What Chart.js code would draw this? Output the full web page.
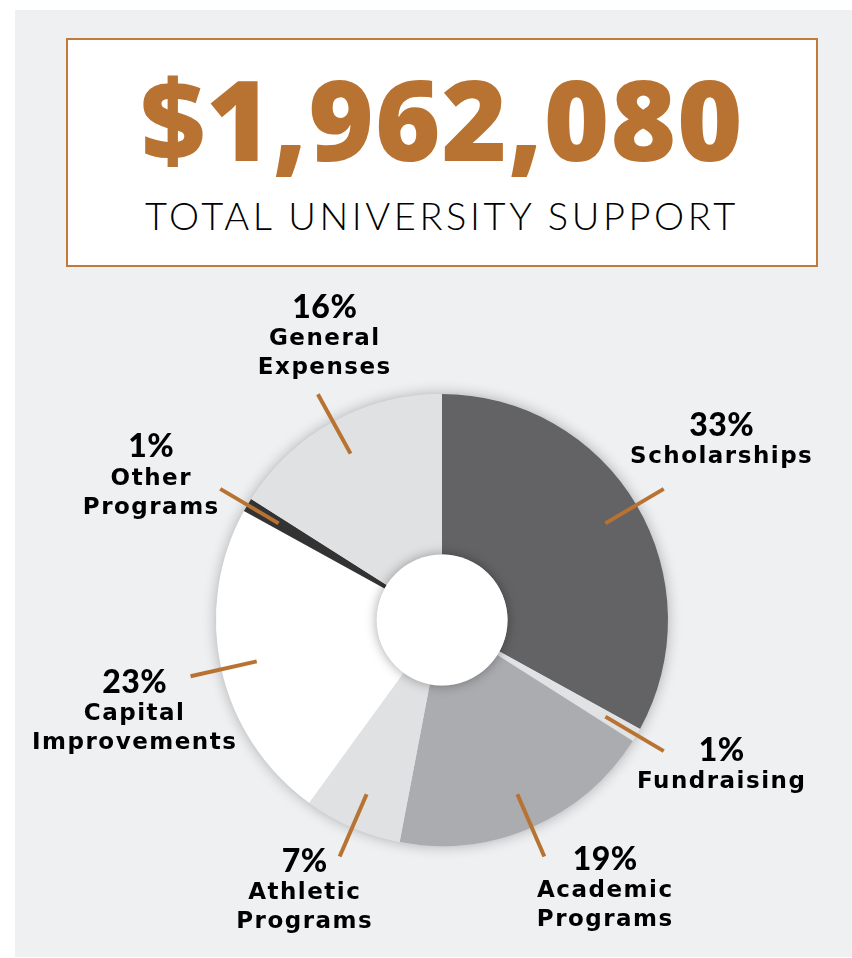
<!DOCTYPE html>
<html>
<head>
<meta charset="utf-8">
<script src="https://cdn.jsdelivr.net/npm/chart.js@4/dist/chart.umd.min.js"></script>
<style>
  body { margin: 0; background: #ffffff; width: 852px; height: 958px; overflow: hidden; position: relative; }
  #panel { position: absolute; left: 15px; top: 10px; width: 837px; height: 947px; background: #eff0f2; }
  #box { position: absolute; left: 66px; top: 38px; width: 748px; height: 225px; border: 2px solid #c07a3a; background: #ffffff; text-align: center; }
  #total { font-family: "Open Sans", sans-serif; font-weight: 800; font-size: 112px; color: #b87332; line-height: 1; margin-top: 22px; letter-spacing: 1px; }
  #sub { font-family: "Lato", sans-serif; font-weight: 300; font-size: 38px; color: #000; margin-top: 18px; letter-spacing: 3.6px; }
  #wrap { position: absolute; left: 0; top: 270px; width: 852px; height: 688px; }
</style>
</head>
<body>
<div id="panel"></div>
<div id="box">
  <div id="total">$1,962,080</div>
  <div id="sub">TOTAL UNIVERSITY SUPPORT</div>
</div>
<div id="wrap"><canvas id="supportChart"></canvas></div>
<script>
// Données du graphique
const categories = ['Scholarships', 'Fundraising', 'Academic Programs', 'Athletic Programs', 'Capital Improvements', 'Other Programs', 'General Expenses'];
const shares = [33, 1, 19, 7, 23, 1, 16];
const sliceColors = ['#636365', '#e1e2e4', '#abacaf', '#e0e1e3', '#ffffff', '#333333', '#e0e1e3'];

// Décalage des étiquettes (px) par rapport à leur position radiale
const labelNudge = [[6, -18], [6, -17], [37, -23], [-11, -21], [3, 22], [-17, 18], [36, -5]];

const ORANGE = '#b87332';

const pieDecor = {
    id: 'pieDecor',
    beforeDatasetsDraw(chart) {
        const arc = chart.getDatasetMeta(0).data[0];
        const { x, y, outerRadius } = arc.getProps(['x', 'y', 'outerRadius'], true);
        const ctx = chart.ctx;
        ctx.save();
        ctx.shadowColor = 'rgba(0,0,0,0.28)';
        ctx.shadowBlur = 14;
        ctx.fillStyle = '#e0e1e3';
        ctx.beginPath();
        ctx.arc(x, y, outerRadius, 0, Math.PI * 2);
        ctx.fill();
        ctx.restore();
    },
    afterDatasetsDraw(chart) {
        const ctx = chart.ctx;
        const arcs = chart.getDatasetMeta(0).data;
        const { x, y, outerRadius, innerRadius } = arcs[0].getProps(['x', 'y', 'outerRadius', 'innerRadius'], true);

        // trou central blanc avec ombre
        ctx.save();
        ctx.shadowColor = 'rgba(0,0,0,0.35)';
        ctx.shadowBlur = 12;
        ctx.fillStyle = '#ffffff';
        ctx.beginPath();
        ctx.arc(x, y, innerRadius, 0, Math.PI * 2);
        ctx.fill();
        ctx.restore();

        arcs.forEach((a, i) => {
            const { startAngle, endAngle } = a.getProps(['startAngle', 'endAngle'], true);
            const mid = (startAngle + endAngle) / 2;
            const cos = Math.cos(mid), sin = Math.sin(mid);

            // trait de rappel
            ctx.save();
            ctx.strokeStyle = ORANGE;
            ctx.lineWidth = 4;
            ctx.beginPath();
            ctx.moveTo(x + cos * outerRadius * 0.84, y + sin * outerRadius * 0.84);
            ctx.lineTo(x + cos * outerRadius * 1.14, y + sin * outerRadius * 1.14);
            ctx.stroke();
            ctx.restore();

            // étiquette
            const r = outerRadius * 1.407;
            const cx = x + cos * r + labelNudge[i][0];
            const cy = y + sin * r + labelNudge[i][1];
            const lines = categories[i].split(' ');
            const h = 34 + lines.length * 29;
            let top = cy - h / 2;
            ctx.save();
            ctx.fillStyle = '#000000';
            ctx.textAlign = 'center';
            ctx.textBaseline = 'middle';
            ctx.font = '900 32px "Lato"';
            ctx.letterSpacing = '0.5px';
            ctx.fillText(shares[i] + '%', cx, top + 17);
            ctx.font = 'bold 23px "DejaVu Sans"';
            ctx.letterSpacing = '1.5px';
            lines.forEach((t, k) => ctx.fillText(t, cx, top + 34 + 14.5 + k * 29));
            ctx.restore();
        });
    }
};

document.addEventListener('DOMContentLoaded', function() {
    const ctx = document.getElementById('supportChart').getContext('2d');
    new Chart(ctx, {
        type: 'doughnut',
        data: {
            labels: categories,
            datasets: [{
                data: shares,
                backgroundColor: sliceColors,
                borderWidth: 0,
                hoverOffset: 0
            }]
        },
        options: {
            responsive: true,
            maintainAspectRatio: false,
            animation: false,
            cutout: '29%',
            layout: { padding: { left: 32, right: 0, top: 124, bottom: 112 } },
            plugins: {
                legend: { display: false },
                tooltip: { enabled: false }
            }
        },
        plugins: [pieDecor]
    });
});
</script>
</body>
</html>
